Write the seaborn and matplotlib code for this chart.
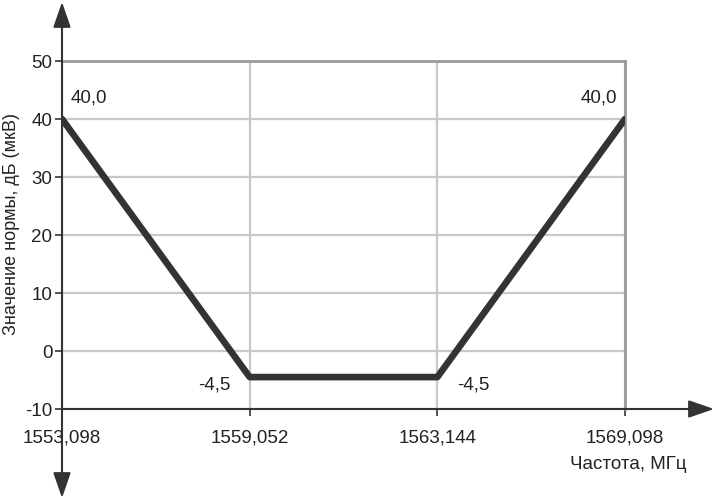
import numpy as np
import pandas as pd
import seaborn as sns
import matplotlib.pyplot as plt

freq_labels = ["1553,098", "1559,052", "1563,144", "1569,098"]
norm_db = [40.0, -4.5, -4.5, 40.0]
point_labels = ["40,0", "-4,5", "-4,5", "40,0"]
y_ticks = [-10, 0, 10, 20, 30, 40, 50]

sns.set_theme(style="white")
plt.rcParams['font.family'] = ['Liberation Sans', 'DejaVu Sans']

df = pd.DataFrame({"freq": freq_labels, "value": norm_db})

fig = plt.figure(figsize=(7.16, 5.02), dpi=100)
ax = fig.add_axes([62 / 716, 92 / 502, 563 / 716, 348 / 502])

sns.lineplot(data=df, x="freq", y="value", ax=ax, color="#333333",
             linewidth=4.8, solid_capstyle="round", zorder=5)

ax.set_ylim(-10, 50)
ax.set_xlim(0, len(freq_labels) - 1)
ax.set_yticks(y_ticks)
ax.set_yticklabels([str(v) for v in y_ticks], fontsize=13.5, color="#222222")
ax.set_xticks(range(len(freq_labels)))
ax.set_xticklabels(freq_labels, fontsize=13.5, color="#222222")
ax.tick_params(axis="both", which="both", direction="out", length=5, width=1.2,
               color="#333333", bottom=True, left=True)
ax.tick_params(axis="y", pad=2)
ax.tick_params(axis="x", pad=9)
ax.set_xlabel("")
ax.set_ylabel("")

ax.grid(True, color="#c8c8c8", linewidth=1.6)
ax.set_axisbelow(True)

for side in ["left", "bottom"]:
    ax.spines[side].set_visible(False)
ax.spines["top"].set_color("#9a9a9a")
ax.spines["top"].set_linewidth(2.0)
ax.spines["right"].set_color("#9a9a9a")
ax.spines["right"].set_linewidth(2.0)

# axes with arrows
arrow = dict(arrowstyle="-|>,head_length=1.3,head_width=0.45", color="#333333",
             linewidth=1.5, shrinkA=0, shrinkB=0)
ax.annotate("", xy=(62 / 716, 3 / 502), xytext=(62 / 716, 250 / 502),
            xycoords="figure fraction", textcoords="figure fraction", arrowprops=arrow)
ax.annotate("", xy=(62 / 716, 499 / 502), xytext=(62 / 716, 250 / 502),
            xycoords="figure fraction", textcoords="figure fraction", arrowprops=arrow)
ax.annotate("", xy=(714 / 716, 92 / 502), xytext=(62 / 716, 92 / 502),
            xycoords="figure fraction", textcoords="figure fraction", arrowprops=arrow)

# value labels
offsets = [(6, 10, "left", "bottom"), (-14, -5, "right", "center"),
           (14, -5, "left", "center"), (-6, 10, "right", "bottom")]
for i, (lab, val) in enumerate(zip(point_labels, norm_db)):
    dx, dy, ha, va = offsets[i]
    ax.annotate(lab, xy=(i, val), xytext=(dx, dy), textcoords="offset points",
                ha=ha, va=va, fontsize=13.5, color="#222222", zorder=6)

fig.text(12 / 716, 278 / 502, "Значение нормы, дБ (мкВ)", rotation=90,
         ha="center", va="center", fontsize=13, color="#222222")
fig.text(686 / 716, 37 / 502, "Частота, МГц", ha="right", va="center",
         fontsize=13.5, color="#222222")

fig.savefig("out.png", dpi=100)
